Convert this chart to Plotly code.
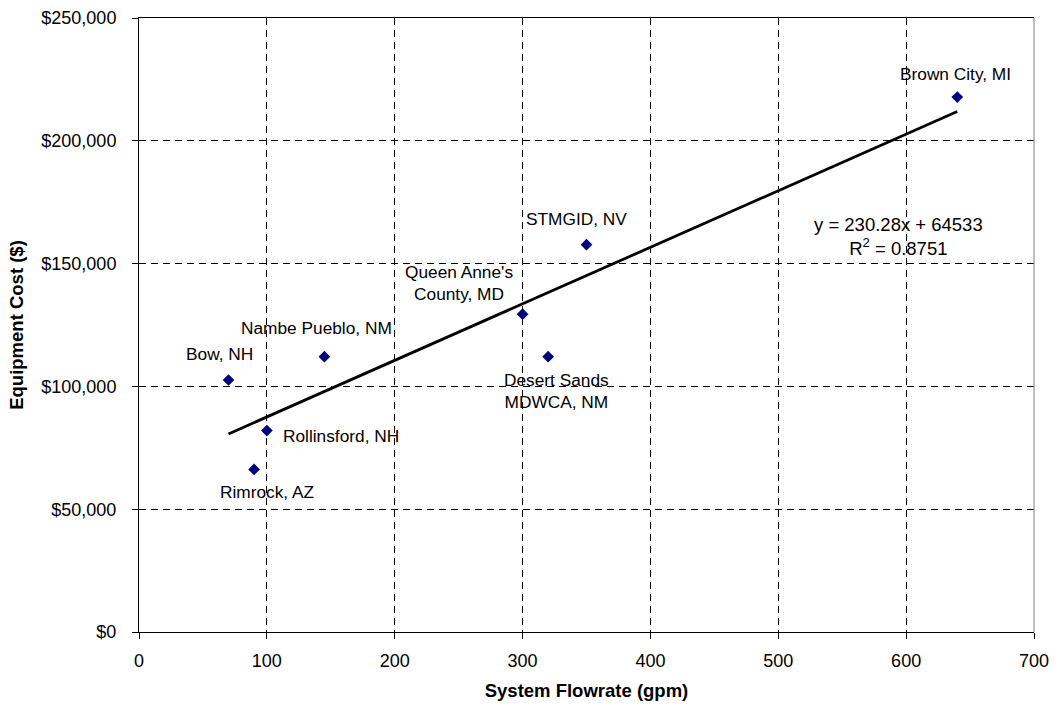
import plotly.graph_objects as go

# Data
sites = ["Bow, NH", "Rimrock, AZ", "Rollinsford, NH", "Nambe Pueblo, NM",
         "Queen Anne's<br>County, MD", "Desert Sands<br>MDWCA, NM", "STMGID, NV", "Brown City, MI"]
flow_gpm = [70, 90, 100, 145, 300, 320, 350, 640]
cost_usd = [102600, 66200, 82000, 112100, 129400, 112100, 157700, 217800]

# Trendline as reported on the chart
slope = 230.28
intercept = 64533
r_squared = 0.8751

x_ticks = [0, 100, 200, 300, 400, 500, 600, 700]
y_ticks = [0, 50000, 100000, 150000, 200000, 250000]
y_tick_text = [f"${v:,}" for v in y_ticks]

# label offsets in pixels (styling only)
label_dx = [-9, 13, 14, -8, -64, 8, -10, -2]
label_dy = [-26, 23, 5, -29, -31, 34, -26, -23]
label_anchor = ["center", "center", "left", "center", "center", "center", "center", "center"]

FONT = "Liberation Sans, Arial, sans-serif"

fig = go.Figure()

x_fit = [min(flow_gpm), max(flow_gpm)]
y_fit = [slope * v + intercept for v in x_fit]
fig.add_trace(go.Scatter(x=x_fit, y=y_fit, mode="lines",
                         line=dict(color="black", width=2.8),
                         hoverinfo="skip", showlegend=False))

fig.add_trace(go.Scatter(x=flow_gpm, y=cost_usd, mode="markers",
                         marker=dict(symbol="diamond", size=9, color="#000080"),
                         text=sites, showlegend=False))

for s, xv, yv, dx, dy, an in zip(sites, flow_gpm, cost_usd, label_dx, label_dy, label_anchor):
    fig.add_annotation(x=xv, y=yv, text=s, showarrow=False,
                       xshift=dx, yshift=-dy, xanchor=an, yanchor="middle",
                       font=dict(family=FONT, size=17.3, color="black"))

fig.add_annotation(x=594, y=161200,
                   text=f"y = {slope}x + {intercept}<br>R<sup>2</sup> = {r_squared}",
                   showarrow=False, xanchor="center", yanchor="middle",
                   font=dict(family=FONT, size=18.5, color="black"))

fig.add_shape(type="line", xref="paper", yref="paper", x0=1, x1=1, y0=0, y1=1,
              line=dict(color="#808080", width=1))

fig.update_xaxes(range=[0, 700], tickvals=x_ticks, ticks="outside", ticklen=6,
                 tickcolor="black", showline=True, linecolor="black", linewidth=1,
                 mirror=True, showgrid=True, gridcolor="black", gridwidth=1,
                 griddash="7px,5px", zeroline=False, ticklabelstandoff=6,
                 tickfont=dict(family=FONT, size=18, color="black"),
                 title=dict(text="<b>System Flowrate (gpm)</b>",
                            font=dict(family=FONT, size=18.5, color="black"), standoff=14))

fig.update_yaxes(range=[0, 250000], tickvals=y_ticks, ticktext=y_tick_text,
                 ticks="outside", ticklen=6, tickcolor="black", showline=True,
                 linecolor="black", linewidth=1, mirror=False,
                 showgrid=True, gridcolor="black", gridwidth=1, griddash="7px,5px",
                 zeroline=False, ticklabelstandoff=12,
                 tickfont=dict(family=FONT, size=18, color="black"),
                 title=dict(text="<b>Equipment Cost ($)</b>",
                            font=dict(family=FONT, size=18.5, color="black"), standoff=12))

fig.update_layout(width=1055, height=704, plot_bgcolor="white", paper_bgcolor="white",
                  margin=dict(l=139, r=21, t=18, b=72, autoexpand=False), showlegend=False)

fig.write_html("out.html", config={"displayModeBar": False},
               post_script="document.body.style.margin='0';document.body.style.overflow='hidden';")
